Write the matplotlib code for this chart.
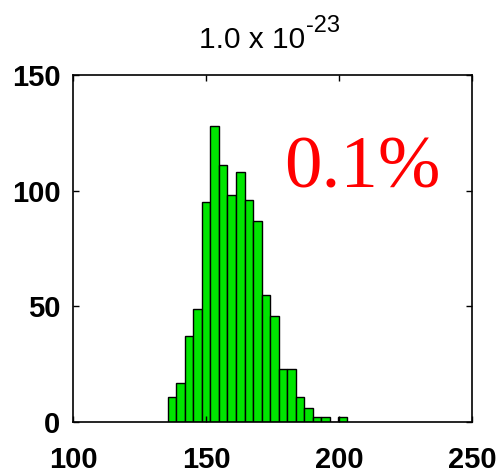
import numpy as np
import matplotlib.pyplot as plt

# histogram counts per bin
counts = [11, 17, 37, 49, 95, 128, 111, 98, 108, 96, 87,
          55, 46, 23, 23, 11, 6, 2, 2, 0, 2]
bin_lo, bin_hi = 135.6, 203.0
edges = np.linspace(bin_lo, bin_hi, len(counts) + 1)

x_ticks = [100, 150, 200, 250]
y_ticks = [0, 50, 100, 150]
title_base = '1.0 x 10'
title_exp = '-23'
note = '0.1%'

fig = plt.figure(figsize=(5.01, 4.74), dpi=100)
ax = fig.add_axes([0.1457, 0.1097, 0.7964, 0.7321])

ax.bar(edges[:-1], counts, width=np.diff(edges), align='edge',
       color='#00e600', edgecolor='black', linewidth=1.0)

ax.set_xlim(100, 250)
ax.set_ylim(0, 150)
ax.set_xticks(x_ticks)
ax.set_yticks(y_ticks)
ax.tick_params(direction='in', length=4, width=1, top=True, right=True,
               labelsize=21)
ax.tick_params(axis='x', pad=17)
ax.tick_params(axis='y', pad=9)
for lab in ax.get_xticklabels() + ax.get_yticklabels():
    lab.set_fontfamily('Liberation Sans')
    lab.set_fontweight('bold')
for s in ax.spines.values():
    s.set_linewidth(1.2)

# title with a plain-hyphen exponent
fig.text(199 / 501, 1 - 48 / 474, title_base, fontsize=21.5,
         fontfamily='Liberation Sans', ha='left', va='baseline')
fig.text(306 / 501, 1 - 32 / 474, title_exp, fontsize=17,
         fontfamily='Liberation Sans', ha='left', va='baseline')

ax.text(0.528, 0.676, note, transform=ax.transAxes, color='red',
        fontsize=54, fontfamily='Liberation Serif', va='baseline')

fig.savefig('out.png', dpi=100)
